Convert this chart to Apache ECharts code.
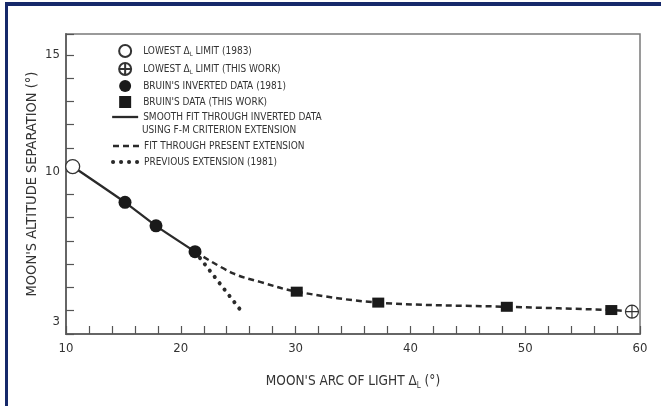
<!DOCTYPE html>
<html><head><meta charset="utf-8">
<script src="https://cdn.jsdelivr.net/npm/echarts@6/dist/echarts.min.js"></script>
<style>html,body{margin:0;padding:0;background:#fff}#c{width:661px;height:406px}</style>
</head><body><div id="c"></div>
<script>
const FONT = '"Liberation Sans Narrow","DejaVu Sans Condensed","Liberation Sans",sans-serif';
// data (x = arc of light, y = altitude separation)
const limit1983 = [[10.58, 10.2]];
const limitThisWork = [[59.3, 3.96]];
const bruinInverted = [[15.14, 8.66], [17.84, 7.65], [21.24, 6.54]];
const bruinThisWork = [[30.1, 4.82], [37.2, 4.35], [48.4, 4.17], [57.5, 4.03]];
const smoothFit = [[10.58, 10.2], [15.14, 8.66], [17.84, 7.65], [21.24, 6.54]];
const presentFit = [[21.24, 6.54], [24.5, 5.62], [26.9, 5.24], [30.1, 4.82], [37.2, 4.35], [48.4, 4.17], [57.5, 4.03], [59.3, 3.96]];
const previousExt = [[21.24, 6.54], [25.2, 4.03]];
const xTickLabels = [10, 20, 30, 40, 50, 60];
const yTickLabels = [3, 10, 15];

const N1 = 'LOWEST ΔL LIMIT (1983)';
const N2 = 'LOWEST ΔL LIMIT (THIS WORK)';
const N3 = "BRUIN'S INVERTED DATA (1981)";
const N4 = "BRUIN'S DATA (THIS WORK)";
const N5 = 'SMOOTH FIT THROUGH INVERTED DATA';
const N6 = 'FIT THROUGH PRESENT EXTENSION';
const N7 = 'PREVIOUS EXTENSION (1981)';
const TXT = '#333';
const legendRich = {
  t: {fontFamily: FONT, fontSize: 10, color: TXT},
  s: {fontFamily: FONT, fontSize: 6, color: TXT, verticalAlign: 'bottom', padding: [6, 0, 0, 0]}
};
function legendFmt(name) {
  if (name === N1) return '{t|LOWEST Δ}{s|L}{t| LIMIT (1983)}';
  if (name === N2) return '{t|LOWEST Δ}{s|L}{t| LIMIT (THIS WORK)}';
  return '{t|' + name + '}';
}
const crossCircle = 'path://M1,12A11,11,0,1,1,23,12A11,11,0,1,1,1,12Z M12,1L12,23 M1,12L23,12';
const squareIcon = 'path://M0,0H10V10H0Z';
const INK = '#1a1a1a';
const LINE = '#2a2a2a';
const NOSYM = {color: 'rgba(0,0,0,0)', borderWidth: 0, opacity: 0};
const legendBase = {orient: 'vertical', left: 111, padding: 0, itemWidth: 26, itemHeight: 12, itemGap: 4,
  formatter: legendFmt, textStyle: {rich: legendRich}, selectedMode: false,
  lineStyle: {width: 'inherit', type: 'inherit', cap: 'inherit'}};

const chart = echarts.init(document.getElementById('c'));
chart.setOption({
  animation: false,
  backgroundColor: '#fff',
  grid: {left: 66, right: 21, top: 34, bottom: 72, show: true, borderColor: '#7a7a7a', borderWidth: 1.5},
  xAxis: {
    type: 'value', min: 10, max: 60, interval: 2,
    name: "{a|MOON'S ARC OF LIGHT Δ}{s|L}{a| (°)}", nameLocation: 'middle', nameGap: 39, nameMoveOverlap: false,
    nameTextStyle: {rich: {
      a: {fontFamily: FONT, fontSize: 13.5, color: TXT},
      s: {fontFamily: FONT, fontSize: 8, color: TXT, verticalAlign: 'bottom', padding: [9, 0, 0, 0]}
    }},
    axisLine: {lineStyle: {color: '#666', width: 2}},
    axisTick: {inside: true, length: 8, lineStyle: {color: '#555', width: 1.2}},
    splitLine: {show: false},
    axisLabel: {margin: 8, fontFamily: FONT, fontSize: 13, color: TXT,
      formatter: v => xTickLabels.indexOf(Math.round(v)) >= 0 && Math.abs(v - Math.round(v)) < 1e-6 ? String(Math.round(v)) : ''}
  },
  yAxis: {
    type: 'value', min: 3, max: 15.9, interval: 1,
    name: "MOON'S ALTITUDE SEPARATION (°)", nameLocation: 'middle', nameGap: 26, nameMoveOverlap: false,
    nameTextStyle: {fontFamily: FONT, fontSize: 14.5, color: TXT},
    axisLine: {lineStyle: {color: '#666', width: 2}},
    axisTick: {inside: true, length: 8, lineStyle: {color: '#555', width: 1.2}},
    splitLine: {show: false},
    axisLabel: {margin: 6, fontFamily: FONT, fontSize: 13, color: TXT,
      rich: {up: {fontFamily: FONT, fontSize: 13, color: TXT, padding: [0, 0, 24, 0]}},
      formatter: v => {
        const r = Math.round(v);
        if (Math.abs(v - r) > 1e-6 || yTickLabels.indexOf(r) < 0) return '';
        return r === 3 ? '{up|3}' : String(r);
      }}
  },
  legend: [
    Object.assign({}, legendBase, {top: 44, data: [N1, N2, N3, {name: N4, icon: squareIcon}, N5]}),
    Object.assign({}, legendBase, {top: 141, itemGap: 6, data: [N6, N7]})
  ],
  graphic: [
    {type: 'text', left: 142, top: 125, style: {text: 'USING F-M CRITERION EXTENSION', fontFamily: FONT, fontSize: 10, fill: TXT}},
    {type: 'rect', shape: {x: 5, y: 2, width: 656, height: 4}, style: {fill: '#16296a'}},
    {type: 'rect', shape: {x: 5, y: 2, width: 3, height: 404}, style: {fill: '#16296a'}}
  ],
  series: [
    {name: N5, type: 'line', data: smoothFit, symbol: 'none', smooth: 0.2, z: 2,
     lineStyle: {color: LINE, width: 2.3}, itemStyle: NOSYM},
    {name: N6, type: 'line', data: presentFit, symbol: 'none', smooth: 0.35, z: 2,
     lineStyle: {color: LINE, width: 2.5, type: [6, 4]}, itemStyle: NOSYM},
    {name: N7, type: 'line', data: previousExt, symbol: 'none', z: 2,
     lineStyle: {color: LINE, width: 4, type: [0.1, 7.9], cap: 'round'}, itemStyle: NOSYM},
    {name: N1, type: 'scatter', data: limit1983, symbol: 'circle', symbolSize: 14, z: 5,
     itemStyle: {color: '#fff', borderColor: '#333', borderWidth: 1.3, opacity: 1}},
    {name: N2, type: 'scatter', data: limitThisWork, symbol: crossCircle, symbolSize: 13, z: 5,
     itemStyle: {color: '#fff', borderColor: '#333', borderWidth: 1.2, opacity: 1}},
    {name: N3, type: 'scatter', data: bruinInverted, symbol: 'circle', symbolSize: 13, z: 5,
     itemStyle: {color: INK, opacity: 1}},
    {name: N4, type: 'scatter', data: bruinThisWork, symbol: 'rect', symbolSize: [12, 10], z: 5,
     itemStyle: {color: INK, opacity: 1}}
  ]
});
</script></body></html>
